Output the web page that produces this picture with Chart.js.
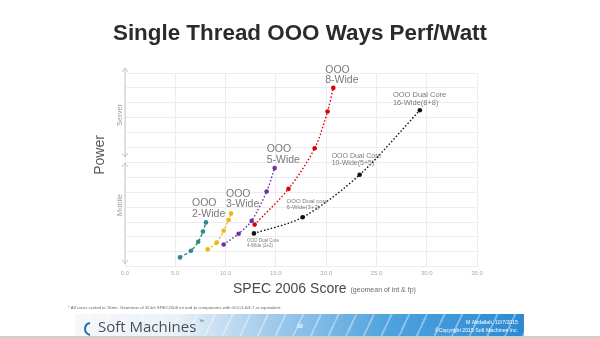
<!DOCTYPE html>
<html>
<head>
<meta charset="utf-8">
<script src="https://cdn.jsdelivr.net/npm/chart.js@4.4.1/dist/chart.umd.min.js"></script>
<style>
  html, body { margin: 0; padding: 0; background: #fff; }
  #wrap { position: relative; width: 600px; height: 338px; overflow: hidden; }
  #banner {
    position: absolute; left: 75px; top: 314px; width: 449px; height: 22px;
    background:
      repeating-linear-gradient(115deg, rgba(255,255,255,0) 0 14px, rgba(255,255,255,0.35) 14px 16px),
      linear-gradient(90deg, #f6f8fa 0%, #eaf1f8 22%, #a6cdec 42%, #4ea2de 70%, #2b8ad3 100%);
  }
  #edge { position: absolute; left: 0; top: 336px; width: 600px; height: 2px; background: #cfcfcf; }
  canvas { position: absolute; left: 0; top: 0; }
</style>
</head>
<body>
<div id="wrap">
  <div id="banner"></div>
  <div id="edge"></div>
  <canvas id="chart" width="600" height="338"></canvas>
</div>
<script>
// SPEC 2006 score (x) against relative power (y), one pair of arrays per core design
const wide2X = [5.47, 6.56, 7.28, 7.75, 8.05];
const wide2Y = [0.63, 1.08, 1.68, 2.36, 2.98];
const wide3X = [8.22, 9.11, 9.81, 10.3, 10.54];
const wide3Y = [1.17, 1.62, 2.42, 3.14, 3.57];
const wide5X = [9.81, 11.3, 12.59, 14.08, 14.88];
const wide5Y = [1.5, 2.22, 3.08, 5.05, 6.62];
const wide8X = [12.89, 16.26, 18.86, 20.14, 20.71];
const wide8Y = [2.83, 5.23, 7.95, 10.42, 12.0];
const dualX = [12.82, 17.66, 23.33, 29.32];
const dualY = [2.24, 3.32, 6.17, 10.5];

const seriesNames = ['OOO 2-Wide', 'OOO 3-Wide', 'OOO 5-Wide', 'OOO 8-Wide', 'OOO Dual Core'];
const dualNames = ['OOO Dual Core|4-Wide (2+2)', 'OOO Dual core|6-Wide(3+3)', 'OOO Dual Core|10-Wide(5+5)', 'OOO Dual Core|16-Wide(8+8)'];
const xTicks = [0, 5, 10, 15, 20, 25, 30, 35];

const toPoints = (xs, ys) => xs.map((x, i) => ({ x, y: ys[i] }));

function series(label, xs, ys, color, dash) {
  return {
    label,
    data: toPoints(xs, ys),
    showLine: true,
    borderColor: color,
    backgroundColor: color,
    borderWidth: 1.4,
    borderDash: dash,
    pointRadius: 2.3,
    pointBorderWidth: 0,
    tension: 0.3
  };
}

const font = 'Liberation Sans, Arial, sans-serif';

function text(ctx, str, x, y, size, color, opts = {}) {
  ctx.save();
  ctx.font = (opts.weight || '') + ' ' + size + 'px ' + (opts.family || font);
  ctx.fillStyle = color;
  ctx.textAlign = opts.align || 'left';
  ctx.textBaseline = 'middle';
  if (opts.rotate) {
    ctx.translate(x, y);
    ctx.rotate(opts.rotate);
    ctx.fillText(str, 0, 0);
  } else {
    ctx.fillText(str, x, y);
  }
  ctx.restore();
}

function bracket(ctx, x, y1, y2) {
  ctx.save();
  ctx.strokeStyle = '#c4c4cc';
  ctx.lineWidth = 1;
  ctx.beginPath();
  ctx.moveTo(x, y1); ctx.lineTo(x, y2);
  ctx.moveTo(x - 3, y1 + 4); ctx.lineTo(x, y1); ctx.lineTo(x + 3, y1 + 4);
  ctx.moveTo(x - 3, y2 - 4); ctx.lineTo(x, y2); ctx.lineTo(x + 3, y2 - 4);
  ctx.stroke();
  ctx.restore();
}

const decorations = {
  id: 'decorations',
  afterDraw(chart) {
    const { ctx, chartArea: a, scales: { x, y } } = chart;
    const px = (xs, ys, i) => [x.getPixelForValue(xs[i]), y.getPixelForValue(ys[i])];

    text(ctx, 'Single Thread OOO Ways Perf/Watt', 300, 34, 22.4, '#2b2b2b', { weight: 'bold', align: 'center' });

    // left axis: Power with Server / Mobile ranges
    text(ctx, 'Power', 100, 155, 14, '#5a5a5a', { align: 'center', rotate: -Math.PI / 2 });
    bracket(ctx, a.left, a.top - 5, 157);
    bracket(ctx, a.left, 163, a.bottom - 3);
    text(ctx, 'Server', 120, 115, 7.5, '#9a9aa2', { align: 'center', rotate: -Math.PI / 2 });
    text(ctx, 'Mobile', 120, 205, 7.5, '#9a9aa2', { align: 'center', rotate: -Math.PI / 2 });

    // x axis title
    ctx.save();
    ctx.font = '14px ' + font;
    const w = ctx.measureText('SPEC 2006 Score ').width;
    ctx.restore();
    text(ctx, 'SPEC 2006 Score', 233, 289, 14, '#4a4a4a');
    text(ctx, '(geomean of int & fp)', 233 + w, 290, 7, '#6a6a6a');

    // series labels, anchored on each series' last point
    const big = [[wide2X, wide2Y, '2-Wide', -14, -19], [wide3X, wide3Y, '3-Wide', -5, -19.5],
                 [wide5X, wide5Y, '5-Wide', -8, -19], [wide8X, wide8Y, '8-Wide', -8, -18]];
    big.forEach(([xs, ys, name, dx, dy]) => {
      const [lx, ly] = px(xs, ys, xs.length - 1);
      text(ctx, 'OOO', lx + dx, ly + dy, 10.5, '#7a7a7a');
      text(ctx, name, lx + dx, ly + dy + 10.5, 10.5, '#7a7a7a');
    });
    const dualOff = [[-7, 7.5, 4.5], [-16, -16, 6], [-28, -19, 7], [-27, -15.5, 7.5]];
    dualNames.forEach((n, i) => {
      const [lx, ly] = px(dualX, dualY, i);
      const [dx, dy, s] = dualOff[i];
      const [l1, l2] = n.split('|');
      text(ctx, l1, lx + dx, ly + dy, s, '#7a7a7a');
      text(ctx, l2, lx + dx, ly + dy + s + 0.5, s, '#7a7a7a');
    });

    // footer
    text(ctx, '* All cores scaled to 16nm. Geomean of 32-bit SPEC2006 int and fp components with GCC4.6/4.7 or equivalent.',
      68, 308, 4.3, '#666');
    ctx.save();
    ctx.strokeStyle = '#1f6fb0';
    ctx.lineWidth = 2;
    ctx.beginPath();
    ctx.arc(91, 329, 6, Math.PI * 0.55, Math.PI * 1.45);
    ctx.stroke();
    ctx.restore();
    text(ctx, 'Soft Machines', 98, 328, 15, '#4a4f57', { family: 'Open Sans, sans-serif' });
    text(ctx, '™', 199, 322, 5, '#4a4f57');
    text(ctx, '16', 300, 327, 5, '#ffffff', { align: 'center', weight: 'bold' });
    text(ctx, 'M Abdallah, 10/7/2015', 518, 323, 5.2, '#ffffff', { align: 'right' });
    text(ctx, '©Copyright 2015 Soft Machines Inc.', 518, 330.5, 5.2, '#ffffff', { align: 'right' });
  }
};

new Chart(document.getElementById('chart'), {
  type: 'scatter',
  data: {
    datasets: [
      series(seriesNames[0], wide2X, wide2Y, '#2f8a8c', [3, 2]),
      series(seriesNames[1], wide3X, wide3Y, '#f2b50f', [2, 2]),
      series(seriesNames[2], wide5X, wide5Y, '#7030a0', [1.5, 2]),
      series(seriesNames[3], wide8X, wide8Y, '#e00000', [1.5, 2]),
      series(seriesNames[4], dualX, dualY, '#111111', [1.5, 2])
    ]
  },
  options: {
    responsive: false,
    animation: false,
    layout: { padding: { left: 125, right: 123, top: 73, bottom: 58 } },
    plugins: { legend: { display: false }, tooltip: { enabled: false } },
    scales: {
      x: {
        type: 'linear', min: xTicks[0], max: xTicks[xTicks.length - 1],
        afterBuildTicks: (s) => { s.ticks = xTicks.map(v => ({ value: v })); },
        ticks: { color: '#aaa', font: { size: 6, family: font }, padding: 3, callback: v => v.toFixed(1) },
        grid: { color: '#ececf2', drawTicks: false },
        border: { display: false }
      },
      y: {
        min: 0, max: 13,
        ticks: { display: false, stepSize: 1 },
        grid: { color: '#ececf2', drawTicks: false },
        border: { display: false }
      }
    }
  },
  plugins: [decorations]
});
</script>
</body>
</html>
